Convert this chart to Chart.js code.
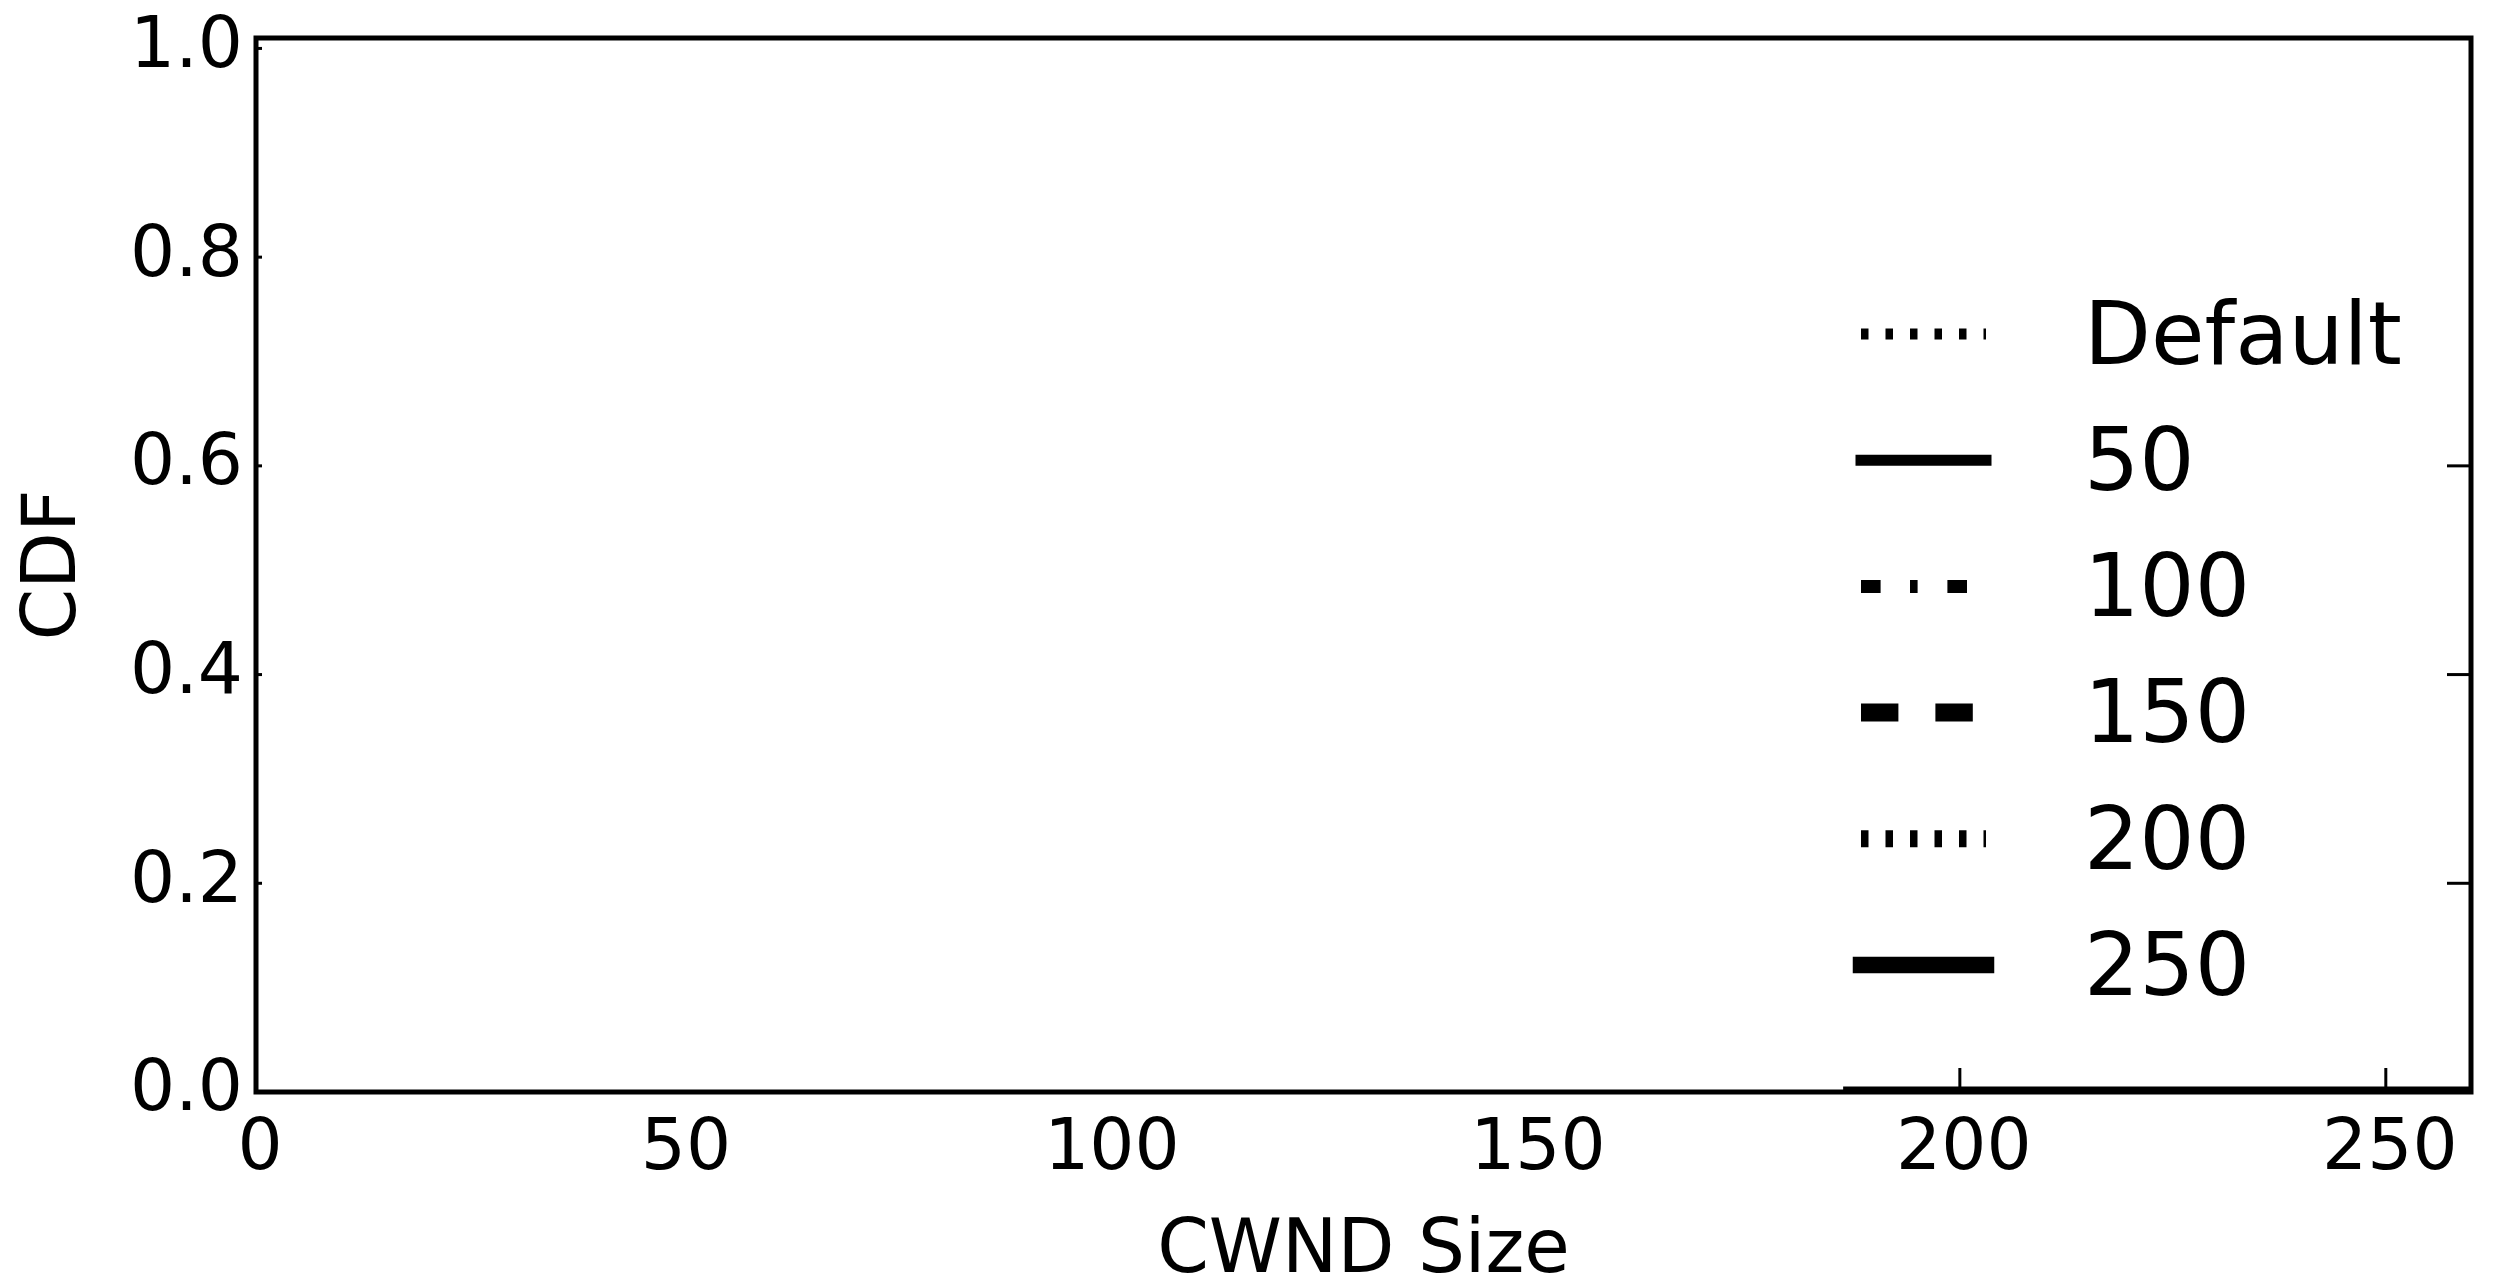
<!DOCTYPE html>
<html>
<head>
<meta charset="utf-8">
<title>CWND Size CDF</title>
<script src="https://cdn.jsdelivr.net/npm/chart.js@4.4.1/dist/chart.umd.min.js"></script>
<style>
    html, body { margin: 0; padding: 0; background: #fff; }
    #wrap { width: 2498px; height: 1281px; }
</style>
</head>
<body>
<div id="wrap"><canvas id="cdfChart" width="2498" height="1281"></canvas></div>
<script>
// Series names, in legend order
const seriesLabels = ['Default', '50', '100', '150', '200', '250'];

// CWND / CDF pairs per series (only what falls inside 0..260 is drawn)
const cwndDefault = [];
const cdfDefault = [];
const cwnd50 = [186.3, 260.2, 260.2];
const cdf50 = [0, 0, 0.77];
const cwnd100 = [];
const cdf100 = [];
const cwnd150 = [];
const cdf150 = [];
const cwnd200 = [];
const cdf200 = [];
const cwnd250 = [];
const cdf250 = [];

// Axis ticks
const xTickValues = [0, 50, 100, 150, 200, 250];
const yTickValues = [0.0, 0.2, 0.4, 0.6, 0.8, 1.0];

// Line styles
const lineWidths = [11, 11, 13, 18, 17, 16.5];
const lineDashes = [[7.5, 17], [], [19.6, 29.4, 7.6, 29.8], [37.4, 37], [7.5, 17], []];

const FONT = 'DejaVu Sans';
const LEGEND_SIZE = 87;

function toPoints(xs, ys) {
    return xs.map((x, i) => ({ x: x, y: ys[i] }));
}

const seriesData = [
    toPoints(cwndDefault, cdfDefault),
    toPoints(cwnd50, cdf50),
    toPoints(cwnd100, cdf100),
    toPoints(cwnd150, cdf150),
    toPoints(cwnd200, cdf200),
    toPoints(cwnd250, cdf250)
];

// Inward tick marks that show on each side of the frame
const tickMarks = [
    { side: 'left', values: [0.2, 0.4, 0.6, 0.8, 1.0], length: 6 },
    { side: 'right', values: [0.2, 0.4, 0.6], length: 24 },
    { side: 'bottom', values: [200, 250], length: 24 }
];

// Frame, ticks and legend drawn on top of the data
const framePlugin = {
    id: 'frameAndLegend',
    afterDatasetsDraw(chart) {
        const { ctx, chartArea } = chart;
        const xs = chart.scales.x;
        const ys = chart.scales.y;
        ctx.save();

        // tick marks
        ctx.strokeStyle = '#000';
        ctx.lineWidth = 3;
        ctx.lineCap = 'butt';
        tickMarks.forEach(t => {
            t.values.forEach(v => {
                ctx.beginPath();
                if (t.side === 'left') {
                    const py = ys.getPixelForValue(v);
                    ctx.moveTo(chartArea.left, py);
                    ctx.lineTo(chartArea.left + t.length, py);
                } else if (t.side === 'right') {
                    const py = ys.getPixelForValue(v);
                    ctx.moveTo(chartArea.right, py);
                    ctx.lineTo(chartArea.right - t.length, py);
                } else {
                    const px = xs.getPixelForValue(v);
                    ctx.moveTo(px, chartArea.bottom);
                    ctx.lineTo(px, chartArea.bottom - t.length);
                }
                ctx.stroke();
            });
        });

        // axes box
        ctx.lineWidth = 5;
        ctx.lineJoin = 'miter';
        ctx.strokeRect(chartArea.left, chartArea.top, chartArea.right - chartArea.left, chartArea.bottom - chartArea.top);

        // legend in the lower right corner
        const x0 = chartArea.right - 610;
        const x1 = chartArea.right - 485;
        const textX = chartArea.right - 387;
        const rowGap = 126.2;
        const lastY = chartArea.bottom - 127;
        const n = chart.data.datasets.length;
        const capHalf = LEGEND_SIZE * 0.729 / 2 - 2;
        ctx.font = LEGEND_SIZE + 'px "' + FONT + '"';
        ctx.textBaseline = 'alphabetic';
        ctx.textAlign = 'left';
        chart.data.datasets.forEach((ds, i) => {
            const y = lastY - (n - 1 - i) * rowGap;
            const dash = ds.borderDash || [];
            ctx.beginPath();
            ctx.lineWidth = ds.borderWidth;
            ctx.setLineDash(dash);
            ctx.lineCap = dash.length ? 'butt' : 'square';
            ctx.strokeStyle = ds.borderColor;
            ctx.moveTo(x0, y);
            ctx.lineTo(x1, y);
            ctx.stroke();
            ctx.setLineDash([]);
            ctx.fillStyle = '#000';
            ctx.fillText(ds.label, textX, y + capHalf);
        });
        ctx.restore();
    }
};

new Chart(document.getElementById('cdfChart'), {
    type: 'line',
    data: {
        datasets: seriesLabels.map((label, i) => ({
            label: label,
            data: seriesData[i],
            borderColor: '#000',
            borderWidth: lineWidths[i],
            borderDash: lineDashes[i],
            borderCapStyle: 'butt',
            pointRadius: 0,
            fill: false,
            tension: 0
        }))
    },
    options: {
        responsive: false,
        devicePixelRatio: 1,
        animation: false,
        layout: { padding: { left: 0, top: 38, right: 27, bottom: 0 } },
        plugins: {
            legend: { display: false },
            tooltip: { enabled: false }
        },
        scales: {
            x: {
                type: 'linear',
                min: 0,
                max: 260,
                afterBuildTicks: s => { s.ticks = xTickValues.map(v => ({ value: v })); },
                afterFit: s => { s.height = 189; s.paddingLeft = 0; s.paddingRight = 0; },
                grid: { display: false, drawTicks: false },
                border: { display: false },
                ticks: {
                    color: '#000',
                    font: { family: FONT, size: 71 },
                    padding: 16,
                    labelOffset: 4,
                    maxRotation: 0,
                    autoSkip: false
                },
                title: {
                    display: true,
                    text: 'CWND Size',
                    color: '#000',
                    font: { family: FONT, size: 74, lineHeight: 0.7 },
                    padding: { top: 0, bottom: 2 }
                }
            },
            y: {
                type: 'linear',
                min: 0,
                max: 1.01,
                afterBuildTicks: s => { s.ticks = yTickValues.map(v => ({ value: v })); },
                afterFit: s => { s.width = 256; s.paddingTop = 0; s.paddingBottom = 0; },
                grid: { display: false, drawTicks: false },
                border: { display: false },
                ticks: {
                    color: '#000',
                    font: { family: FONT, size: 71 },
                    padding: 13,
                    callback: v => v.toFixed(1)
                },
                title: {
                    display: true,
                    text: 'CDF',
                    color: '#000',
                    font: { family: FONT, size: 74 },
                    padding: { top: 11, bottom: 0 }
                }
            }
        }
    },
    plugins: [framePlugin]
});
</script>
</body>
</html>
